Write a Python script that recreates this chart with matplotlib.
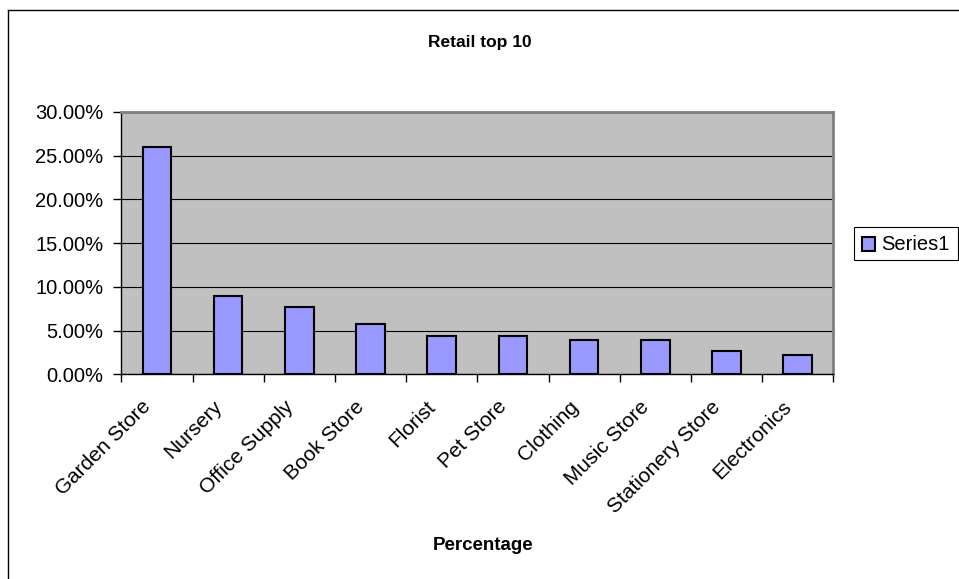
import numpy as np
import matplotlib
matplotlib.use("Agg")
import matplotlib.pyplot as plt
from matplotlib.ticker import FuncFormatter, MultipleLocator
from matplotlib.patches import Rectangle
from matplotlib.lines import Line2D

plt.rcParams['font.family'] = ['Liberation Sans', 'DejaVu Sans']

categories = ['Garden Store', 'Nursery', 'Office Supply', 'Book Store', 'Florist',
              'Pet Store', 'Clothing', 'Music Store', 'Stationery Store', 'Electronics']
share = [0.260, 0.090, 0.077, 0.057, 0.044, 0.044, 0.039, 0.039, 0.027, 0.022]
series_name = 'Series1'

W, H = 959, 579
fig = plt.figure(figsize=(W / 100, H / 100), dpi=100)

# outer chart border (only top and left visible)
fig.add_artist(Line2D([8 / W, 8 / W], [0, 1 - 10 / H], transform=fig.transFigure,
                      color='black', lw=1.0))
fig.add_artist(Line2D([8 / W, 1], [1 - 10 / H, 1 - 10 / H], transform=fig.transFigure,
                      color='black', lw=1.0))

left, right, top, bottom = 121.3, 833.3, 112, 374.3
ax = fig.add_axes([left / W, 1 - bottom / H, (right - left) / W, (bottom - top) / H])
ax.set_facecolor('#C0C0C0')

x = np.arange(len(categories))
ax.bar(x, share, width=0.4, color='#9999FF', edgecolor='black', linewidth=1.5,
       zorder=3, label=series_name)

ax.set_xlim(-0.5, len(categories) - 0.5)
ax.set_ylim(0, 0.30)
ax.yaxis.set_major_locator(MultipleLocator(0.05))
ax.yaxis.set_major_formatter(FuncFormatter(lambda v, p: '%.2f%%' % (v * 100)))
ax.grid(axis='y', color='black', linewidth=0.8, zorder=1)
ax.set_axisbelow(True)

# ticks between categories on the x axis
ax.set_xticks(np.arange(-0.5, len(categories), 1.0))
ax.set_xticklabels([])
ax.tick_params(axis='x', direction='out', length=6, width=1)
ax.tick_params(axis='y', direction='out', length=6, width=1, labelsize=14.5, pad=7)

for i, name in enumerate(categories):
    ax.text(i - 0.22, -0.026, name, rotation=45, ha='right', va='top',
            rotation_mode='anchor', fontsize=15, transform=ax.transData)

for s in ['top', 'right']:
    ax.spines[s].set_color('#808080')
    ax.spines[s].set_linewidth(2)
ax.spines['left'].set_linewidth(1)
ax.spines['bottom'].set_linewidth(1)

fig.text(480 / W, 1 - 42 / H, 'Retail top 10', ha='center', va='center',
         fontsize=12.5, fontweight='bold')
fig.text(483 / W, 1 - 545 / H, 'Percentage', ha='center', va='center',
         fontsize=13.5, fontweight='bold')

# legend box
lx0, ly0, lx1, ly1 = 854, 227, 958, 260
fig.add_artist(Rectangle((lx0 / W, 1 - ly1 / H), (lx1 - lx0) / W, (ly1 - ly0) / H,
                         transform=fig.transFigure, facecolor='white',
                         edgecolor='black', linewidth=0.8))
fig.add_artist(Rectangle((862 / W, 1 - 251 / H), 13 / W, 14 / H,
                         transform=fig.transFigure, facecolor='#9999FF',
                         edgecolor='black', linewidth=1.5))
fig.text(881 / W, 1 - 244 / H, series_name, ha='left', va='center', fontsize=14.5)

fig.savefig('out.png', dpi=100)
